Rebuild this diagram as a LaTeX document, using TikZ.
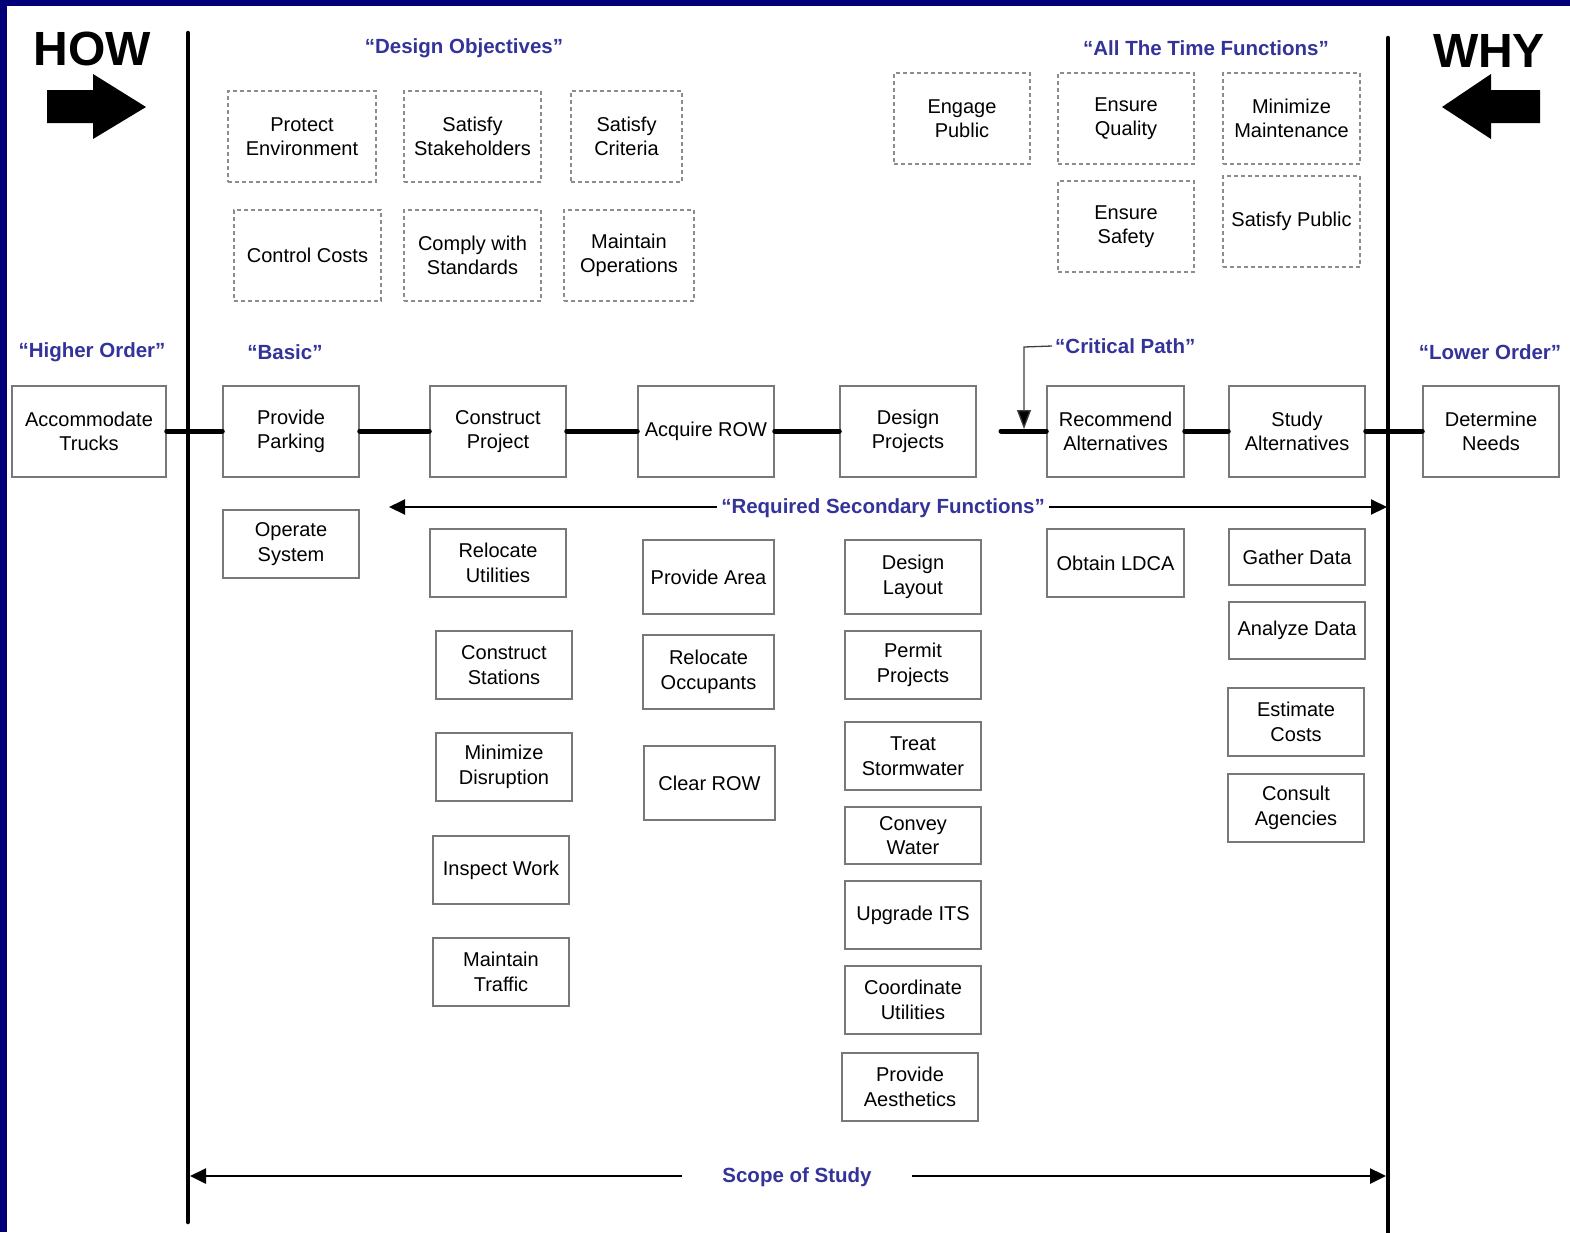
\documentclass[tikz,border=0pt]{standalone}
\usepackage{fontspec}
\setmainfont{Liberation Sans}
\usetikzlibrary{arrows.meta}
\definecolor{navyband}{RGB}{0,0,120}
\definecolor{lblblue}{RGB}{51,51,153}
\definecolor{boxgray}{RGB}{120,120,120}
\tikzset{
  fbox/.style={draw=boxgray, line width=1.5pt, align=center, inner sep=0pt,
    font=\fontsize{20}{24.5}\selectfont, text=black},
  dbox/.style={fbox, dash pattern=on 4pt off 3pt, draw=boxgray!85, line width=1.4pt},
  lbl/.style={text=lblblue, font=\fontsize{20.5}{23}\selectfont\bfseries, inner sep=3pt},
  critline/.style={line width=5pt, line cap=round},
  bigv/.style={line width=4.5pt, line cap=round},
  sarrow/.style={line width=2pt, -{Triangle[length=16pt,width=15pt]}},
}
\newcommand{\bx}[6]{\node[#1, minimum width=#4pt, minimum height=#5pt] (#2) at (#3) {#6};}
\begin{document}
\begin{tikzpicture}[x=1pt,y=-1pt]
\useasboundingbox (0,0) rectangle (1570,1232);
\fill[white] (0,0) rectangle (1570,1232);
% navy bands
\fill[navyband] (0,0) rectangle (1570,6);
\fill[navyband] (0,0) rectangle (7,1232);

% HOW / WHY
\node[anchor=base, font=\fontsize{48}{50}\selectfont\bfseries, inner sep=0pt] (how) at (92.5,65) {HOW};
\node[anchor=base, font=\fontsize{48}{50}\selectfont\bfseries, inner sep=0pt] (why) at (1489,67) {WHY};
\fill (47,90) -- (93,90) -- (93,74) -- (146,107) -- (93,139) -- (93,123) -- (47,123) -- cycle;
\fill (1540,90) -- (1491,90) -- (1491,74) -- (1442,107) -- (1491,139) -- (1491,123) -- (1540,123) -- cycle;

% scope lines
\coordinate (vlt) at (188,33);
\coordinate (vlb) at (188,1222);
\coordinate (vrt) at (1388,38);
\coordinate (vrb) at (1388,1240);
\draw[bigv] (vlt) -- (vlb);
\draw[bigv] (vrt) -- (vrb);

% group labels
\node[lbl] (dobj) at (464,48) {“Design Objectives”};
\node[lbl] (atf) at (1206,48) {“All The Time Functions”};
\node[lbl] (ho) at (92,352) {“Higher Order”};
\node[lbl] (basic) at (285,352) {“Basic”};
\node[lbl, anchor=west] (cpath) at (1052,346) {“Critical Path”};
\node[lbl] (lo) at (1490,352) {“Lower Order”};

% design objectives
\bx{dbox}{pe}{302,136.5}{148}{91}{Protect\\Environment}
\bx{dbox}{ss}{472.5,136.5}{137}{91}{Satisfy\\Stakeholders}
\bx{dbox}{sc}{626.5,136.5}{111}{91}{Satisfy\\Criteria}
\bx{dbox}{cc}{307.5,255.5}{147}{91}{Control Costs}
\bx{dbox}{cws}{472.5,255.5}{137}{91}{Comply with\\Standards}
\bx{dbox}{mo}{629,255.5}{130}{91}{Maintain\\Operations}
% all the time functions
\bx{dbox}{ep}{962,118.5}{136}{91}{Engage\\Public}
\bx{dbox}{eq}{1126,118.5}{136}{91}{Ensure\\Quality}
\bx{dbox}{mm}{1291.5,118.5}{137}{91}{Minimize\\Maintenance}
\bx{dbox}{es}{1126,226.5}{136}{91}{Ensure\\Safety}
\bx{dbox}{sp}{1291.5,221.5}{137}{91}{Satisfy Public}

% critical path row
\bx{fbox}{at}{89,431.5}{154}{91}{Accommodate\\Trucks}
\bx{fbox}{pp}{291,431.5}{136}{91}{Provide\\Parking}
\bx{fbox}{cp}{498,431.5}{136}{91}{Construct\\Project}
\bx{fbox}{ar}{706,431.5}{136}{91}{Acquire ROW}
\bx{fbox}{dp}{908,431.5}{136}{91}{Design\\Projects}
\bx{fbox}{ra}{1115.5,431.5}{137}{91}{Recommend\\Alternatives}
\bx{fbox}{sa}{1297,431.5}{136}{91}{Study\\Alternatives}
\bx{fbox}{dn}{1491,431.5}{136}{91}{Determine\\Needs}

\draw[critline] (at.east |- 0,431) -- (pp.west |- 0,431);
\draw[critline] (pp.east |- 0,431) -- (cp.west |- 0,431);
\draw[critline] (cp.east |- 0,431) -- (ar.west |- 0,431);
\draw[critline] (ar.east |- 0,431) -- (dp.west |- 0,431);
\coordinate (cpstart) at (1001,431);
\draw[critline] (cpstart) -- (ra.west |- 0,431);
\draw[critline] (ra.east |- 0,431) -- (sa.west |- 0,431);
\draw[critline] (sa.east |- 0,431) -- (dn.west |- 0,431);

% critical path pointer
\coordinate (cptip) at (1024,429);
\draw[line width=1.3pt, draw=black!75, -{Triangle[length=19pt,width=14pt,fill=black]}] (cpath.west) -- (1024,347) -- (cptip);

% required secondary functions
\node[lbl, inner xsep=4pt] (rsf) at (883,508) {“Required Secondary Functions”};
\coordinate (rsfl) at (389,507);
\coordinate (rsfr) at (1387,507);
\draw[sarrow] (rsf.west |- rsfl) -- (rsfl);
\draw[sarrow] (rsf.east |- rsfr) -- (rsfr);

\bx{fbox}{os}{291,544}{136}{68}{Operate\\System}
\bx{fbox}{ru}{498,563}{136}{68}{Relocate\\Utilities}
\bx{fbox}{cst}{504,665}{136}{68}{Construct\\Stations}
\bx{fbox}{md}{504,767}{136}{68}{Minimize\\Disruption}
\bx{fbox}{iw}{501,870}{136}{68}{Inspect Work}
\bx{fbox}{mt}{501,972}{136}{68}{Maintain\\Traffic}
\bx{fbox}{pa}{708.5,577}{131}{74}{Provide Area}
\bx{fbox}{ro}{708.5,672}{131}{74}{Relocate\\Occupants}
\bx{fbox}{cr}{709.5,783}{131}{74}{Clear ROW}
\bx{fbox}{dl}{913,577}{136}{74}{Design\\Layout}
\bx{fbox}{ppj}{913,665}{136}{68}{Permit\\Projects}
\bx{fbox}{ts}{913,756}{136}{68}{Treat\\Stormwater}
\bx{fbox}{cw}{913,835.5}{136}{57}{Convey\\Water}
\bx{fbox}{ui}{913,915}{136}{68}{Upgrade ITS}
\bx{fbox}{cu}{913,1000}{136}{68}{Coordinate\\Utilities}
\bx{fbox}{pae}{910,1087}{136}{68}{Provide\\Aesthetics}
\bx{fbox}{ol}{1115.5,563}{137}{68}{Obtain LDCA}
\bx{fbox}{gd}{1297,557}{136}{56}{Gather Data}
\bx{fbox}{ad}{1297,630.5}{136}{57}{Analyze Data}
\bx{fbox}{ec}{1296,722}{136}{68}{Estimate\\Costs}
\bx{fbox}{ca}{1296,808}{136}{68}{Consult\\Agencies}

% scope of study
\node[lbl, inner xsep=40pt] (sos) at (797,1177) {Scope of Study};
\coordinate (sosl) at (190,1176);
\coordinate (sosr) at (1386,1176);
\draw[sarrow, line width=2.5pt] (sos.west |- sosl) -- (sosl);
\draw[sarrow, line width=2.5pt] (sos.east |- sosr) -- (sosr);
\end{tikzpicture}
\end{document}
